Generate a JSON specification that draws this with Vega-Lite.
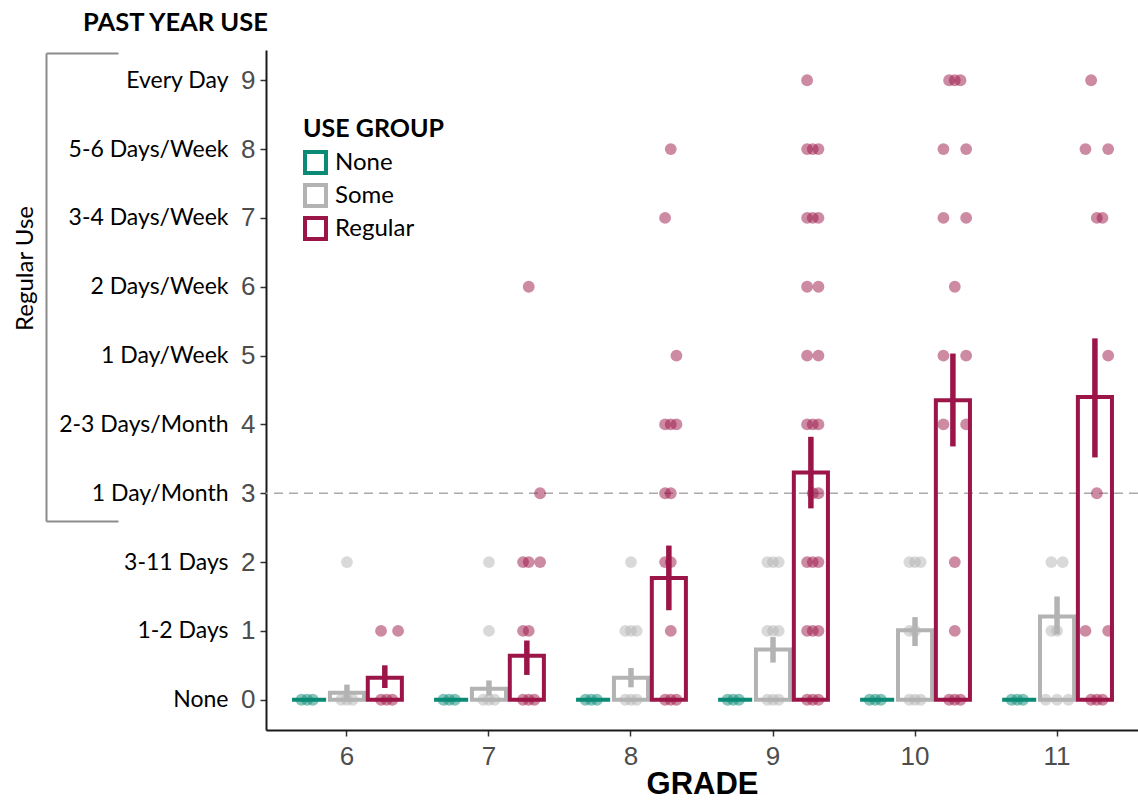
{
  "$schema": "https://vega.github.io/schema/vega-lite/v6.json",
  "width": 872,
  "height": 680,
  "autosize": {"type": "none"},
  "padding": {"left": 266, "top": 50, "right": 0, "bottom": 71},
  "background": "white",
  "config": {"view": {"stroke": null}, "axis": {"grid": false}},
  "title": {"text": "PAST YEAR USE", "anchor": "start", "frame": "group", "dx": -183, "offset": 14, "font": "Lato", "fontSize": 25.5, "fontWeight": "bold", "color": "black"},
  "datasets": {
    "summary": [
      {"grade": 6, "group": "None", "mean": 0},
      {"grade": 6, "group": "Some", "mean": 0.1, "lo": 0.02, "hi": 0.22},
      {"grade": 6, "group": "Regular", "mean": 0.32, "lo": 0.17, "hi": 0.5},
      {"grade": 7, "group": "None", "mean": 0},
      {"grade": 7, "group": "Some", "mean": 0.16, "lo": 0.06, "hi": 0.28},
      {"grade": 7, "group": "Regular", "mean": 0.64, "lo": 0.36, "hi": 0.86},
      {"grade": 8, "group": "None", "mean": 0},
      {"grade": 8, "group": "Some", "mean": 0.32, "lo": 0.18, "hi": 0.46},
      {"grade": 8, "group": "Regular", "mean": 1.77, "lo": 1.3, "hi": 2.24},
      {"grade": 9, "group": "None", "mean": 0},
      {"grade": 9, "group": "Some", "mean": 0.73, "lo": 0.54, "hi": 0.91},
      {"grade": 9, "group": "Regular", "mean": 3.3, "lo": 2.78, "hi": 3.82},
      {"grade": 10, "group": "None", "mean": 0},
      {"grade": 10, "group": "Some", "mean": 1.01, "lo": 0.78, "hi": 1.2},
      {"grade": 10, "group": "Regular", "mean": 4.35, "lo": 3.68, "hi": 5.03},
      {"grade": 11, "group": "None", "mean": 0},
      {"grade": 11, "group": "Some", "mean": 1.21, "lo": 0.95, "hi": 1.5},
      {"grade": 11, "group": "Regular", "mean": 4.4, "lo": 3.52, "hi": 5.25}
    ],
    "points": [
      {"grade": 6, "group": "None", "value": 0, "slot": "N2"},
      {"grade": 6, "group": "None", "value": 0, "slot": "N3"},
      {"grade": 6, "group": "None", "value": 0, "slot": "N4"},
      {"grade": 6, "group": "Some", "value": 0, "slot": "S2"},
      {"grade": 6, "group": "Some", "value": 0, "slot": "S3"},
      {"grade": 6, "group": "Some", "value": 0, "slot": "S4"},
      {"grade": 6, "group": "Some", "value": 2, "slot": "S3"},
      {"grade": 6, "group": "Regular", "value": 0, "slot": "R2"},
      {"grade": 6, "group": "Regular", "value": 0, "slot": "R3"},
      {"grade": 6, "group": "Regular", "value": 0, "slot": "R4"},
      {"grade": 6, "group": "Regular", "value": 1, "slot": "R2"},
      {"grade": 6, "group": "Regular", "value": 1, "slot": "R5"},

      {"grade": 7, "group": "None", "value": 0, "slot": "N2"},
      {"grade": 7, "group": "None", "value": 0, "slot": "N3"},
      {"grade": 7, "group": "None", "value": 0, "slot": "N4"},
      {"grade": 7, "group": "Some", "value": 0, "slot": "S2"},
      {"grade": 7, "group": "Some", "value": 0, "slot": "S3"},
      {"grade": 7, "group": "Some", "value": 0, "slot": "S4"},
      {"grade": 7, "group": "Some", "value": 1, "slot": "S3"},
      {"grade": 7, "group": "Some", "value": 2, "slot": "S3"},
      {"grade": 7, "group": "Regular", "value": 0, "slot": "R2"},
      {"grade": 7, "group": "Regular", "value": 0, "slot": "R3"},
      {"grade": 7, "group": "Regular", "value": 0, "slot": "R4"},
      {"grade": 7, "group": "Regular", "value": 1, "slot": "R2"},
      {"grade": 7, "group": "Regular", "value": 1, "slot": "R3"},
      {"grade": 7, "group": "Regular", "value": 2, "slot": "R2"},
      {"grade": 7, "group": "Regular", "value": 2, "slot": "R3"},
      {"grade": 7, "group": "Regular", "value": 2, "slot": "R5"},
      {"grade": 7, "group": "Regular", "value": 3, "slot": "R5"},
      {"grade": 7, "group": "Regular", "value": 6, "slot": "R3"},

      {"grade": 8, "group": "None", "value": 0, "slot": "N2"},
      {"grade": 8, "group": "None", "value": 0, "slot": "N3"},
      {"grade": 8, "group": "None", "value": 0, "slot": "N4"},
      {"grade": 8, "group": "Some", "value": 0, "slot": "S2"},
      {"grade": 8, "group": "Some", "value": 0, "slot": "S3"},
      {"grade": 8, "group": "Some", "value": 0, "slot": "S4"},
      {"grade": 8, "group": "Some", "value": 1, "slot": "S2"},
      {"grade": 8, "group": "Some", "value": 1, "slot": "S3"},
      {"grade": 8, "group": "Some", "value": 1, "slot": "S4"},
      {"grade": 8, "group": "Some", "value": 2, "slot": "S3"},
      {"grade": 8, "group": "Regular", "value": 0, "slot": "R2"},
      {"grade": 8, "group": "Regular", "value": 0, "slot": "R3"},
      {"grade": 8, "group": "Regular", "value": 0, "slot": "R4"},
      {"grade": 8, "group": "Regular", "value": 1, "slot": "R3"},
      {"grade": 8, "group": "Regular", "value": 2, "slot": "R2"},
      {"grade": 8, "group": "Regular", "value": 2, "slot": "R3"},
      {"grade": 8, "group": "Regular", "value": 3, "slot": "R2"},
      {"grade": 8, "group": "Regular", "value": 3, "slot": "R3"},
      {"grade": 8, "group": "Regular", "value": 4, "slot": "R2"},
      {"grade": 8, "group": "Regular", "value": 4, "slot": "R3"},
      {"grade": 8, "group": "Regular", "value": 4, "slot": "R4"},
      {"grade": 8, "group": "Regular", "value": 5, "slot": "R4"},
      {"grade": 8, "group": "Regular", "value": 7, "slot": "R2"},
      {"grade": 8, "group": "Regular", "value": 8, "slot": "R3"},

      {"grade": 9, "group": "None", "value": 0, "slot": "N2"},
      {"grade": 9, "group": "None", "value": 0, "slot": "N3"},
      {"grade": 9, "group": "None", "value": 0, "slot": "N4"},
      {"grade": 9, "group": "Some", "value": 0, "slot": "S2"},
      {"grade": 9, "group": "Some", "value": 0, "slot": "S3"},
      {"grade": 9, "group": "Some", "value": 0, "slot": "S4"},
      {"grade": 9, "group": "Some", "value": 1, "slot": "S2"},
      {"grade": 9, "group": "Some", "value": 1, "slot": "S3"},
      {"grade": 9, "group": "Some", "value": 1, "slot": "S4"},
      {"grade": 9, "group": "Some", "value": 2, "slot": "S2"},
      {"grade": 9, "group": "Some", "value": 2, "slot": "S3"},
      {"grade": 9, "group": "Some", "value": 2, "slot": "S4"},
      {"grade": 9, "group": "Regular", "value": 0, "slot": "R2"},
      {"grade": 9, "group": "Regular", "value": 0, "slot": "R3"},
      {"grade": 9, "group": "Regular", "value": 0, "slot": "R4"},
      {"grade": 9, "group": "Regular", "value": 1, "slot": "R2"},
      {"grade": 9, "group": "Regular", "value": 1, "slot": "R3"},
      {"grade": 9, "group": "Regular", "value": 1, "slot": "R4"},
      {"grade": 9, "group": "Regular", "value": 2, "slot": "R2"},
      {"grade": 9, "group": "Regular", "value": 2, "slot": "R3"},
      {"grade": 9, "group": "Regular", "value": 2, "slot": "R4"},
      {"grade": 9, "group": "Regular", "value": 3, "slot": "R3"},
      {"grade": 9, "group": "Regular", "value": 3, "slot": "R4"},
      {"grade": 9, "group": "Regular", "value": 4, "slot": "R2"},
      {"grade": 9, "group": "Regular", "value": 4, "slot": "R3"},
      {"grade": 9, "group": "Regular", "value": 4, "slot": "R4"},
      {"grade": 9, "group": "Regular", "value": 5, "slot": "R2"},
      {"grade": 9, "group": "Regular", "value": 5, "slot": "R4"},
      {"grade": 9, "group": "Regular", "value": 6, "slot": "R2"},
      {"grade": 9, "group": "Regular", "value": 6, "slot": "R4"},
      {"grade": 9, "group": "Regular", "value": 7, "slot": "R2"},
      {"grade": 9, "group": "Regular", "value": 7, "slot": "R3"},
      {"grade": 9, "group": "Regular", "value": 7, "slot": "R4"},
      {"grade": 9, "group": "Regular", "value": 8, "slot": "R2"},
      {"grade": 9, "group": "Regular", "value": 8, "slot": "R3"},
      {"grade": 9, "group": "Regular", "value": 8, "slot": "R4"},
      {"grade": 9, "group": "Regular", "value": 9, "slot": "R2"},

      {"grade": 10, "group": "None", "value": 0, "slot": "N2"},
      {"grade": 10, "group": "None", "value": 0, "slot": "N3"},
      {"grade": 10, "group": "None", "value": 0, "slot": "N4"},
      {"grade": 10, "group": "Some", "value": 0, "slot": "S2"},
      {"grade": 10, "group": "Some", "value": 0, "slot": "S3"},
      {"grade": 10, "group": "Some", "value": 0, "slot": "S4"},
      {"grade": 10, "group": "Some", "value": 1, "slot": "S2"},
      {"grade": 10, "group": "Some", "value": 1, "slot": "S3"},
      {"grade": 10, "group": "Some", "value": 2, "slot": "S2"},
      {"grade": 10, "group": "Some", "value": 2, "slot": "S3"},
      {"grade": 10, "group": "Some", "value": 2, "slot": "S4"},
      {"grade": 10, "group": "Regular", "value": 0, "slot": "R2"},
      {"grade": 10, "group": "Regular", "value": 0, "slot": "R3"},
      {"grade": 10, "group": "Regular", "value": 0, "slot": "R4"},
      {"grade": 10, "group": "Regular", "value": 1, "slot": "R3"},
      {"grade": 10, "group": "Regular", "value": 2, "slot": "R3"},
      {"grade": 10, "group": "Regular", "value": 4, "slot": "R1"},
      {"grade": 10, "group": "Regular", "value": 4, "slot": "R5"},
      {"grade": 10, "group": "Regular", "value": 5, "slot": "R1"},
      {"grade": 10, "group": "Regular", "value": 5, "slot": "R5"},
      {"grade": 10, "group": "Regular", "value": 6, "slot": "R3"},
      {"grade": 10, "group": "Regular", "value": 7, "slot": "R1"},
      {"grade": 10, "group": "Regular", "value": 7, "slot": "R5"},
      {"grade": 10, "group": "Regular", "value": 8, "slot": "R1"},
      {"grade": 10, "group": "Regular", "value": 8, "slot": "R5"},
      {"grade": 10, "group": "Regular", "value": 9, "slot": "R2"},
      {"grade": 10, "group": "Regular", "value": 9, "slot": "R3"},
      {"grade": 10, "group": "Regular", "value": 9, "slot": "R4"},

      {"grade": 11, "group": "None", "value": 0, "slot": "N2"},
      {"grade": 11, "group": "None", "value": 0, "slot": "N3"},
      {"grade": 11, "group": "None", "value": 0, "slot": "N4"},
      {"grade": 11, "group": "Some", "value": 0, "slot": "S1"},
      {"grade": 11, "group": "Some", "value": 0, "slot": "S3"},
      {"grade": 11, "group": "Some", "value": 0, "slot": "S5"},
      {"grade": 11, "group": "Some", "value": 1, "slot": "S2"},
      {"grade": 11, "group": "Some", "value": 1, "slot": "S3"},
      {"grade": 11, "group": "Some", "value": 2, "slot": "S2"},
      {"grade": 11, "group": "Some", "value": 2, "slot": "S4"},
      {"grade": 11, "group": "Regular", "value": 0, "slot": "R2"},
      {"grade": 11, "group": "Regular", "value": 0, "slot": "R3"},
      {"grade": 11, "group": "Regular", "value": 0, "slot": "R4"},
      {"grade": 11, "group": "Regular", "value": 1, "slot": "R1"},
      {"grade": 11, "group": "Regular", "value": 1, "slot": "R5"},
      {"grade": 11, "group": "Regular", "value": 3, "slot": "R3"},
      {"grade": 11, "group": "Regular", "value": 5, "slot": "R5"},
      {"grade": 11, "group": "Regular", "value": 7, "slot": "R3"},
      {"grade": 11, "group": "Regular", "value": 7, "slot": "R4"},
      {"grade": 11, "group": "Regular", "value": 8, "slot": "R1"},
      {"grade": 11, "group": "Regular", "value": 8, "slot": "R5"},
      {"grade": 11, "group": "Regular", "value": 9, "slot": "R2"}
    ],
    "ref": [{"threshold": 3}],
    "bracket": [{"span": "Regular Use"}]
  },
  "resolve": {"scale": {"y": "independent", "xOffset": "independent"}, "axis": {"y": "independent"}},
  "layer": [
    {
      "data": {"name": "bracket"},
      "mark": {"type": "rule", "opacity": 0},
      "encoding": {
        "y": {
          "datum": 0.5,
          "type": "quantitative",
          "scale": {"domain": [0, 1], "range": [471, 3], "nice": false, "zero": false},
          "axis": {
            "orient": "left", "offset": 220, "values": [0, 1],
            "domain": true, "domainColor": "#8c8c8c", "domainWidth": 2,
            "ticks": true, "tickSize": -72, "tickColor": "#8c8c8c", "tickWidth": 2,
            "labels": false, "grid": false,
            "title": "Regular Use", "titleFont": "Lato", "titleFontSize": 24, "titleFontWeight": "normal", "titleColor": "black",
            "titleAngle": -90, "titleX": -21, "titleY": 218, "titleAlign": "center", "titleBaseline": "middle"
          }
        }
      }
    },
    {
      "data": {"name": "ref"},
      "mark": {"type": "rule", "color": "#aaaaaa", "strokeWidth": 1.5, "strokeDash": [9, 6]},
      "encoding": {
        "y": {
          "field": "threshold", "type": "quantitative",
          "scale": {"domain": [-0.44, 9.44], "nice": false, "zero": false},
          "axis": {
            "orient": "left", "offset": 38, "values": [0, 1, 2, 3, 4, 5, 6, 7, 8, 9],
            "labelExpr": "['None','1-2 Days','3-11 Days','1 Day/Month','2-3 Days/Month','1 Day/Week','2 Days/Week','3-4 Days/Week','5-6 Days/Week','Every Day'][datum.value]",
            "domain": false, "ticks": false, "tickSize": 0, "labelPadding": 0,
            "labelFont": "Lato", "labelFontSize": 23, "labelColor": "black", "labelOverlap": false, "labelFlush": false,
            "title": null, "grid": false
          }
        }
      }
    },
    {
      "data": {"name": "summary"},
      "mark": {"type": "bar", "filled": false, "strokeWidth": 4},
      "encoding": {
        "x": {
          "field": "grade", "type": "ordinal",
          "scale": {"paddingInner": 0.2, "paddingOuter": 0.17},
          "axis": {
            "title": "GRADE", "labelAngle": 0,
            "domainColor": "#1a1a1a", "domainWidth": 2, "tickColor": "#333333", "tickWidth": 1.5, "tickSize": 6,
            "labelFont": "Liberation Sans", "labelFontSize": 26, "labelColor": "#4d4d4d", "labelPadding": 7,
            "titleFont": "Liberation Sans", "titleFontSize": 31, "titleFontWeight": "bold", "titleColor": "black", "titlePadding": 0
          }
        },
        "xOffset": {"field": "group", "type": "nominal", "scale": {"domain": ["None", "Some", "Regular"], "paddingInner": 0.1, "paddingOuter": 0.05}},
        "y": {"field": "mean", "type": "quantitative", "scale": {"domain": [-0.44, 9.44], "nice": false, "zero": false}, "axis": null},
        "y2": {"datum": 0},
        "color": {
          "field": "group", "type": "nominal",
          "scale": {"domain": ["None", "Some", "Regular"], "range": ["#0b8a75", "#b3b3b3", "#9b1548"]},
          "legend": {
            "title": "USE GROUP", "orient": "none", "legendX": 37, "legendY": 67, "padding": 0,
            "symbolType": "square", "symbolSize": 440, "symbolStrokeWidth": 4, "symbolFillColor": "white",
            "titleFont": "Lato", "titleFontSize": 25, "titleFontWeight": "bold", "titleColor": "black", "titlePadding": 8,
            "labelFont": "Lato", "labelFontSize": 24, "labelColor": "black", "labelOffset": 7, "rowPadding": -4
          }
        }
      }
    },
    {
      "data": {"name": "points"},
      "mark": {"type": "circle", "size": 140, "opacity": 0.5},
      "encoding": {
        "x": {"field": "grade", "type": "ordinal"},
        "xOffset": {
          "field": "slot", "type": "nominal",
          "scale": {"domain": ["N0", "N1", "N2", "N3", "N4", "N5", "N6", "S0", "S1", "S2", "S3", "S4", "S5", "S6", "R0", "R1", "R2", "R3", "R4", "R5", "R6"], "paddingInner": 0, "paddingOuter": 0}
        },
        "y": {
          "field": "value", "type": "quantitative",
          "scale": {"domain": [-0.44, 9.44], "nice": false, "zero": false},
          "axis": {
            "orient": "left", "values": [0, 1, 2, 3, 4, 5, 6, 7, 8, 9], "format": "d", "title": null, "grid": false,
            "domainColor": "#1a1a1a", "domainWidth": 2, "tickColor": "#333333", "tickWidth": 1.5, "tickSize": 6,
            "labelFont": "Liberation Sans", "labelFontSize": 26, "labelColor": "#4d4d4d", "labelPadding": 5
          }
        },
        "fill": {
          "field": "group", "type": "nominal",
          "scale": {"domain": ["Regular", "Some", "None"], "range": ["#9b1548", "#b3b3b3", "#0b8a75"]},
          "legend": null
        }
      }
    },
    {
      "data": {"name": "summary"},
      "mark": {"type": "rule", "strokeWidth": 5.5},
      "encoding": {
        "x": {"field": "grade", "type": "ordinal"},
        "xOffset": {"field": "group", "type": "nominal", "scale": {"domain": ["None", "Some", "Regular"], "paddingInner": 0.1, "paddingOuter": 0.05}},
        "y": {"field": "lo", "type": "quantitative", "scale": {"domain": [-0.44, 9.44], "nice": false, "zero": false}, "axis": null},
        "y2": {"field": "hi"},
        "stroke": {
          "field": "group", "type": "nominal",
          "scale": {"domain": ["Some", "Regular", "None"], "range": ["#b3b3b3", "#9b1548", "#0b8a75"]},
          "legend": null
        }
      }
    }
  ]
}
